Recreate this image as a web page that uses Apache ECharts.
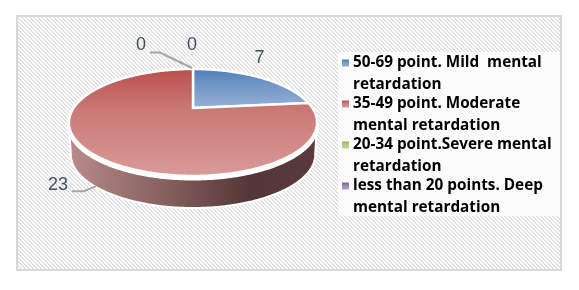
<!DOCTYPE html>
<html><head><meta charset="utf-8">
<style>html,body{margin:0;padding:0;background:#fff}#c{width:579px;height:290px}</style>
<script src="https://cdn.jsdelivr.net/npm/echarts@6/dist/echarts.min.js"></script>
</head><body><div id="c"></div>
<script>
var categories = [
  "50-69 point. Mild  mental\nretardation",
  "35-49 point. Moderate\nmental retardation",
  "20-34 point.Severe mental\nretardation",
  "less than 20 points. Deep\nmental retardation"
];
var values = [7, 23, 0, 0];
var colorsTop = ["#4a7bb9", "#bb4f4c", "#98b954", "#7d60a0"];
var colorsMid = ["#7096c6", "#cb7a76", "#aec878", "#9880b3"];
var colorsBottom = ["#97b2d6", "#d99b99", "#c3d69b", "#b3a2c7"];

// perspective disc projection fitted to the reference
var CX = 193, AY = 108, B = -20.3, K = 0.271, R = 119.4, DEPTH = 32, SHRINK = 0.985;
function proj(deg, down) {
  var t = deg * Math.PI / 180, u = Math.sin(t), v = Math.cos(t), d = 1 + K * v;
  var f = down ? SHRINK : 1;
  return [CX + f * R * u / d, (AY + B * v) / d + (down ? DEPTH : 0)];
}
var FRONT_A = 105.7, FRONT_B = 254.3;
var labelLayout = [
  {dx: 0, dy: -19, line: null},
  {dx: -35, dy: 31, line: [[-21, 37], [-9, 37], [3, 32]]},
  {dx: -1, dy: -24, line: null},
  {dx: -52, dy: -24, line: [[-43, -16.5], [-33, -16.5], [-1, -1]]}
];
var total = values.reduce(function (a, b) { return a + b; }, 0);

function sliceFill(i) {
  return {type: 'linear', x: 0, y: 0, x2: 0, y2: 1, colorStops: [
    {offset: 0, color: colorsTop[i]}, {offset: 0.4, color: colorsMid[i]}, {offset: 1, color: colorsBottom[i]}]};
}

function renderSlice(params, api) {
  var i = params.seriesIndex, val = api.value(0), before = 0;
  for (var k = 0; k < i; k++) before += values[k];
  var a0 = before / total * 360, a1 = a0 + val / total * 360;
  var children = [];
  var s = Math.max(a0, FRONT_A), e = Math.min(a1, FRONT_B), n, j, pts;
  if (e > s) {
    pts = [];
    n = Math.ceil(e - s);
    for (j = 0; j <= n; j++) pts.push(proj(s + (e - s) * j / n, false));
    for (j = n; j >= 0; j--) pts.push(proj(s + (e - s) * j / n, true));
    children.push({type: 'polygon', shape: {points: pts}, style: {
      fill: {type: 'linear', x: 0, y: 0, x2: 1, y2: 0, colorStops: [
        {offset: 0, color: '#b98c8a'}, {offset: 0.39, color: '#85605e'},
        {offset: 0.73, color: '#553636'}, {offset: 1, color: '#5a3a3a'}]},
      stroke: '#fff', lineWidth: 2, lineJoin: 'round'}});
    // white gap between the top face and the wall
    var gap = [];
    for (j = 0; j <= n; j++) { var g = proj(s + (e - s) * j / n, false); gap.push([g[0], g[1] + 2.5]); }
    children.push({type: 'polyline', shape: {points: gap}, style: {stroke: '#fff', lineWidth: 4, fill: null}});
  }
  if (val > 0) {
    pts = [[CX, AY]];
    n = Math.ceil(a1 - a0);
    for (j = 0; j <= n; j++) pts.push(proj(a0 + (a1 - a0) * j / n, false));
    children.push({type: 'polygon', shape: {points: pts}, style: {
      fill: sliceFill(i), stroke: '#fff', lineWidth: 2.5, lineJoin: 'miter'}});
  }
  var anchor = proj((a0 + a1) / 2, false), lay = labelLayout[i];
  if (lay.line) {
    children.push({type: 'polyline', shape: {points: lay.line.map(function (p) {
      return [anchor[0] + p[0], anchor[1] + p[1]];
    })}, style: {stroke: '#a6a6a6', lineWidth: 2, fill: null}});
  }
  children.push({type: 'text', style: {
    x: anchor[0] + lay.dx, y: anchor[1] + lay.dy, text: String(val),
    align: 'center', verticalAlign: 'middle',
    font: '18px "Liberation Sans", sans-serif', fill: '#3f4f63'}});
  return {type: 'group', children: children};
}

var hatch = document.createElement('canvas');
hatch.width = hatch.height = 4;
(function () {
  var g = hatch.getContext('2d');
  for (var y = 0; y < 4; y++) for (var x = 0; x < 4; x++) {
    g.fillStyle = ((x - y + 8) % 4) < 2 ? '#e2e2e2' : '#ffffff';
    g.fillRect(x, y, 1, 1);
  }
})();

var chart = echarts.init(document.getElementById('c'), null, {renderer: 'canvas'});
chart.setOption({
  animation: false,
  backgroundColor: '#fff',
  graphic: [
    {type: 'rect', z: -10, silent: true,
      shape: {x: 17, y: 16, width: 544, height: 254},
      style: {fill: {image: hatch, repeat: 'repeat'}, stroke: '#d9d9d9', lineWidth: 2}},
    {type: 'rect', z: -9, silent: true,
      shape: {x: 338, y: 52, width: 222, height: 164},
      style: {fill: 'rgba(255,255,255,0.75)'}}
  ],
  legend: {
    orient: 'vertical', left: 338, top: 30, padding: [0, 4, 0, 4],
    data: categories, selectedMode: false,
    icon: 'rect', itemWidth: 7, itemHeight: 7, itemGap: -25,
    formatter: function (n) { return '\n' + n; },
    textStyle: {fontFamily: '"Open Sans", sans-serif', fontSize: 15.3, fontWeight: 700,
      color: '#000', lineHeight: 22, padding: [0, 0, 0, -1]}
  },
  series: categories.map(function (name, i) {
    return {
      type: 'custom', name: name, coordinateSystem: 'none',
      renderItem: renderSlice, data: [[values[i]]], silent: true, clip: false,
      itemStyle: {color: sliceFill(i)}
    };
  })
});
</script></body></html>
